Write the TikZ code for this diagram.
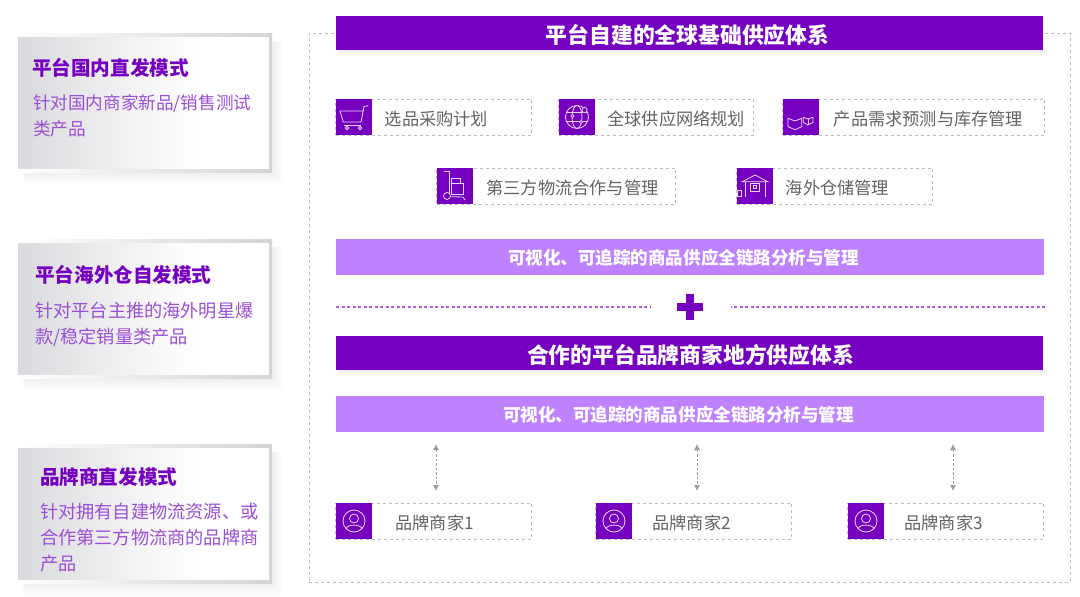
\documentclass[tikz,border=0pt]{standalone}
\usepackage{fontspec}
\usepackage{xcolor}
\setmainfont{Noto Sans CJK SC}
\usetikzlibrary{arrows.meta,positioning}
\definecolor{brandpurple}{HTML}{7500C0}
\definecolor{brandlilac}{HTML}{BE82FF}
\definecolor{bodypurple}{HTML}{9A4FD6}
\definecolor{dashgray}{HTML}{BDBDB8}
\definecolor{itemgray}{HTML}{626262}
\definecolor{arrowgray}{HTML}{9C9C90}
\definecolor{cardgray}{HTML}{D9DADD}
\definecolor{cardpale}{HTML}{F5F5F6}
\pgfdeclarehorizontalshading{cardfade}{100bp}{color(0bp)=(cardgray); color(25bp)=(cardgray); color(50bp)=(cardpale); color(62bp)=(white); color(100bp)=(white)}
\tikzset{
  titlebar/.style={fill=brandpurple,text=white,minimum width=707pt,minimum height=34pt,inner sep=0pt,text height=24.4pt,text depth=4pt,font=\fontsize{21.8}{26}\selectfont\bfseries},
  stripbar/.style={fill=brandlilac,text=white,minimum width=708pt,minimum height=36pt,inner sep=0pt,text height=18pt,text depth=3pt,font=\fontsize{17.55}{21}\selectfont\bfseries},
  sideback/.style={left color=white,right color=black!17,minimum width=254pt,minimum height=139pt,inner sep=0pt},
  sidecard/.style={shading=cardfade,minimum width=251pt,minimum height=131pt,inner sep=0pt},
  sidetitle/.style={anchor=west,inner sep=0pt,text=brandpurple,font=\fontsize{19.6}{24}\selectfont\bfseries},
  sidetext/.style={anchor=north west,inner sep=0pt,align=left,text=bodypurple,font=\fontsize{18.2}{26}\selectfont},
  dashbox/.style={draw=dashgray,dashed,dash pattern=on 3pt off 3pt,line width=1pt,minimum height=36pt,inner sep=0pt},
  iconbox/.style={fill=brandpurple,minimum size=36pt,inner sep=0pt},
  itemtext/.style={inner sep=0pt,yshift=-2pt,text=itemgray,font=\fontsize{17.2}{20}\selectfont},
  iconline/.style={draw=white!85!brandpurple,line width=.8pt,fill=none},
  linkarrow/.style={draw=arrowgray,dashed,dash pattern=on 2.5pt off 2pt,line width=.9pt,{Latex[length=6pt,width=6pt]}-{Latex[length=6pt,width=6pt]}},
  plusline/.style={draw=brandlilac!70!brandpurple,dashed,dash pattern=on 3pt off 2.5pt,line width=1.3pt}
}
% side card: name, top y
\newcommand{\modecard}[2]{
  \foreach \r in {1,3,...,11}
    \fill[black,opacity=.012,rounded corners=3pt] (26-\r*.3,#2+8) rectangle (272+\r,#2+139+\r);
  \node[sideback] (#1back) at (145,#2+69.5) {};
  \node[sidecard] (#1) at (143.5,#2+69.5) {};
}
% soft shadow under a title bar
\newcommand{\barshadow}[1]{
  \foreach \r in {1,2,3,4}
    \fill[black,opacity=.02] (338,#1) rectangle (1047,#1+\r);
}
\newcommand{\carticon}[1]{\begin{scope}[shift={(#1.center)},iconline]
  \draw (14.3,-11.3) -- (10,-10.5) -- (7,5) -- (-10.7,5) -- (-14,-6) -- (10,-6);
  \draw (-10.5,8.5) -- (7,8.5);
  \draw (-7,11) circle (1.8);
  \draw (6,11) circle (1.8);
\end{scope}}
\newcommand{\globeicon}[1]{\begin{scope}[shift={(#1.center)},iconline]
  \draw (0,0) circle (11.5);
  \draw (0,0) ellipse (5 and 11.5);
  \draw (-10.5,-4.5) -- (10.5,-4.5);
  \draw (-10.5,4.5) -- (10.5,4.5);
  \fill[brandpurple] (7.5,-7) circle (3);
  \draw (7.5,-7) circle (2.6);
  \fill[brandpurple] (-4.5,-1) circle (2);
  \draw (-4.5,-1) circle (1.6);
  \fill[brandpurple] (4,5) circle (2);
  \draw (4,5) circle (1.6);
\end{scope}}
\newcommand{\bookicon}[1]{\begin{scope}[shift={(#1.center)},iconline]
  \draw (-13,1.3) -- (-6,4) -- (.7,1.3) -- (.7,9.7) -- (-6,12.7) -- (-13,9.7) -- cycle;
  \draw (2.3,.3) -- (7,2) -- (12,.3) -- (12,5.3) -- (7,8) -- (2.3,5.3) -- cycle;
  \draw (7,2) -- (7,8);
\end{scope}}
\newcommand{\trolleyicon}[1]{\begin{scope}[shift={(#1.center)},iconline]
  \draw (-11,-15) -- (-6,-15) -- (-6,7);
  \draw (-3.7,10.7) -- (8,11) -- (10,14);
  \draw (-3.7,-7.7) rectangle (5.3,-2.3);
  \draw (-3.7,-2.3) rectangle (8.7,8.3);
  \draw (-8,10) circle (3.5);
\end{scope}}
\newcommand{\storeicon}[1]{\begin{scope}[shift={(#1.center)},iconline]
  \draw (-12.7,-4.3) -- (0,-11) -- (12.7,-4.3) -- cycle;
  \draw (-10,-3.7) -- (-10,10.7);
  \draw (10,-3.7) -- (10,10.7);
  \draw (-4.3,-2.3) rectangle (4,5);
  \draw (-1.5,-.5) rectangle (1.5,2);
  \draw (-18,4.3) rectangle (-13.5,10.7);
\end{scope}}
\newcommand{\personicon}[1]{\begin{scope}[shift={(#1.center)},iconline]
  \draw (0,0) circle (11);
  \draw (0,-2.5) circle (4.5);
  \draw (-8,7.5) .. controls (-6,3) and (6,3) .. (8,7.5);
\end{scope}}

\begin{document}
\begin{tikzpicture}[x=1pt,y=-1pt]
\useasboundingbox (0,0) rectangle (1080,597);
% left column
\modecard{direct}{33}
\node[sidetitle] (directtitle) at (32,68) {平台国内直发模式};
\node[sidetext,font=\fontsize{17.6}{26}\selectfont] (directtext) at (33,94) {针对国内商家新品/销售测试\\类产品};
\modecard{overseas}{239}
\node[sidetitle] (overseastitle) at (35,275) {平台海外仓自发模式};
\node[sidetext] (overseastext) at (35,302) {针对平台主推的海外明星爆\\款/稳定销量类产品};
\modecard{brand}{444}
\node[sidetitle] (brandtitle) at (40,477) {品牌商直发模式};
\node[sidetext] (brandtext) at (40,503) {针对拥有自建物流资源、或\\合作第三方物流商的品牌商\\产品};
% dashed frame
\node[dashbox,minimum width=761pt,minimum height=549pt] (frame) at (689.5,307.5) {};
% upper system
\barshadow{50}
\node[titlebar] (systemone) at (689.5,33) {平台自建的全球基础供应体系\hspace*{4pt}};
\node[dashbox,minimum width=196pt] (planbox) at (433.5,117) {};
\node[iconbox] (plan) at (354,117) {};
\node[itemtext,right=12.5pt of plan] (plantext) {选品采购计划};
\carticon{plan}
\node[dashbox,minimum width=195pt] (networkbox) at (656,117) {};
\node[iconbox] (network) at (577,117) {};
\node[itemtext,right=12pt of network] (networktext) {全球供应网络规划};
\globeicon{network}
\node[dashbox,minimum width=262pt] (demandbox) at (913.5,117) {};
\node[iconbox] (demand) at (801,117) {};
\node[itemtext,right=14.5pt of demand] (demandtext) {产品需求预测与库存管理};
\bookicon{demand}
\node[dashbox,minimum width=239pt] (logisticsbox) at (556,186) {};
\node[iconbox] (logistics) at (455,186) {};
\node[itemtext,right=13pt of logistics] (logisticstext) {第三方物流合作与管理};
\trolleyicon{logistics}
\node[dashbox,minimum width=196pt] (storagebox) at (834.5,186) {};
\node[iconbox] (storage) at (755,186) {};
\node[itemtext,right=12.5pt of storage] (storagetext) {海外仓储管理};
\storeicon{storage}
\node[stripbar] (stripone) at (690,257) {可视化、可追踪的商品供应全链路分析与管理\hspace*{13pt}};
% plus
\node[minimum size=28pt,inner sep=0pt] (plus) at (690,307) {};
\fill[brandpurple] (677,303) rectangle (703,311);
\fill[brandpurple] (686,294) rectangle (694,320);
\coordinate (plusleft) at (336,307);
\coordinate (plusright) at (1045,307);
\draw[plusline,shorten >=26pt] (plusleft) -- (plus.west);
\draw[plusline,shorten >=27pt] (plusright) -- (plus.east);
% lower system
\barshadow{370}
\node[titlebar] (systemtwo) at (689.5,353) {\hspace*{2pt}合作的平台品牌商家地方供应体系};
\node[stripbar] (striptwo) at (690,414) {可视化、可追踪的商品供应全链路分析与管理\hspace*{23pt}};
\node[dashbox,minimum width=196pt] (sellerAbox) at (433.5,521) {};
\node[iconbox] (sellerA) at (354,521) {};
\node[itemtext,right=23pt of sellerA] (sellerAtext) {品牌商家1};
\personicon{sellerA}
\node[dashbox,minimum width=196pt] (sellerBbox) at (693.5,521) {};
\node[iconbox] (sellerB) at (614,521) {};
\node[itemtext,right=20pt of sellerB] (sellerBtext) {品牌商家2};
\personicon{sellerB}
\node[dashbox,minimum width=196pt] (sellerCbox) at (945.5,521) {};
\node[iconbox] (sellerC) at (866,521) {};
\node[itemtext,right=20pt of sellerC] (sellerCtext) {品牌商家3};
\personicon{sellerC}
\coordinate (linkAtop) at (436,444);
\coordinate (linkAbot) at (436,491);
\coordinate (linkBtop) at (697,444);
\coordinate (linkBbot) at (697,491);
\coordinate (linkCtop) at (953,444);
\coordinate (linkCbot) at (953,491);
\draw[linkarrow] (linkAtop) -- (linkAbot);
\draw[linkarrow] (linkBtop) -- (linkBbot);
\draw[linkarrow] (linkCtop) -- (linkCbot);
\end{tikzpicture}
\end{document}
